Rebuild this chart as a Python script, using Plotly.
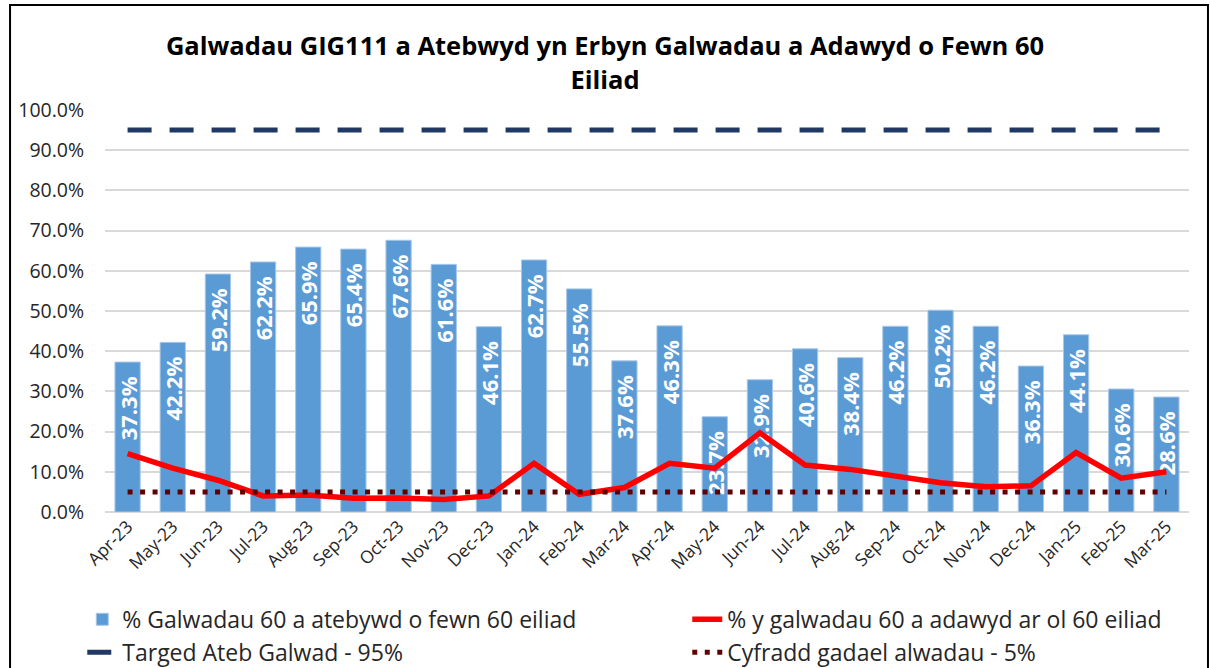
import plotly.graph_objects as go

months = ["Apr-23","May-23","Jun-23","Jul-23","Aug-23","Sep-23","Oct-23","Nov-23","Dec-23",
          "Jan-24","Feb-24","Mar-24","Apr-24","May-24","Jun-24","Jul-24","Aug-24","Sep-24",
          "Oct-24","Nov-24","Dec-24","Jan-25","Feb-25","Mar-25"]
answered = [37.3,42.2,59.2,62.2,65.9,65.4,67.6,61.6,46.1,62.7,55.5,37.6,46.3,23.7,32.9,40.6,
            38.4,46.2,50.2,46.2,36.3,44.1,30.6,28.6]
abandoned = [14.5,10.9,7.9,4.0,4.2,3.4,3.5,3.1,4.0,12.1,4.4,6.1,12.1,10.9,19.7,11.7,10.6,9.0,
             7.3,6.3,6.5,14.8,8.4,10.0]
target = [95.0]*len(months)
abandon_rate = [5.0]*len(months)

names = ["% Galwadau 60 a atebywd o fewn 60 eiliad",
         "% y galwadau 60 a adawyd ar ol 60 eiliad",
         "Targed Ateb Galwad - 95%",
         "Cyfradd gadael alwadau - 5%"]

FONT = "Open Sans"
TXT = "#262626"

fig = go.Figure()
fig.add_trace(go.Bar(
    x=months, y=answered, name=names[0], legend="legend",
    marker=dict(color="#5B9BD5", line=dict(color="#A9C8E8", width=1)),
    text=[f"{v:.1f}%\u00a0\u00a0" for v in answered], textposition="inside", insidetextanchor="end",
    textangle=-90, constraintext="none",
    textfont=dict(family=FONT, size=22, color="white", weight="bold"),
    width=0.56,
))
fig.add_trace(go.Scatter(
    x=months, y=abandoned, name=names[1], mode="lines", legend="legend2",
    line=dict(color="#FF0000", width=5.5),
))
fig.add_trace(go.Scatter(
    x=months, y=target, name=names[2], mode="lines", legend="legend",
    line=dict(color="#1F3864", width=5, dash="24px,18px"),
))
fig.add_trace(go.Scatter(
    x=months, y=abandon_rate, name=names[3], mode="lines", legend="legend2",
    line=dict(color="#600000", width=5, dash="5px,7.5px"),
))

fig.update_layout(
    width=1210, height=668,
    paper_bgcolor="white", plot_bgcolor="white",
    margin=dict(l=105, r=21, t=110, b=156, autoexpand=False),
    font=dict(family=FONT, color=TXT),
    title=dict(text="<b>Galwadau GIG111 a Atebwyd yn Erbyn Galwadau a Adawyd o Fewn 60<br>Eiliad</b>",
               x=0.5, xanchor="center", y=0.917, yanchor="top",
               font=dict(family=FONT, size=25.5, color="#000000")),
    bargap=0.44,
    showlegend=True,
    legend=dict(xref="container", yref="container", x=0.068, y=0.105, xanchor="left", yanchor="top",
                orientation="v", font=dict(size=23, family=FONT, color=TXT),
                bgcolor="rgba(0,0,0,0)", tracegroupgap=0, itemwidth=30),
    legend2=dict(xref="container", yref="container", x=0.568, y=0.105, xanchor="left", yanchor="top",
                 orientation="v", font=dict(size=23, family=FONT, color=TXT),
                 bgcolor="rgba(0,0,0,0)", tracegroupgap=0, itemwidth=30),
    xaxis=dict(tickangle=-45, tickfont=dict(size=17.5, color=TXT), automargin=False,
               showgrid=False, showline=False, ticks=""),
    yaxis=dict(range=[0, 100], dtick=10, tickformat=".1f", ticksuffix="%", automargin=False,
               tickfont=dict(size=19.5, color=TXT),
               showgrid=True, gridcolor="#D9D9D9", gridwidth=1.5,
               zeroline=True, zerolinecolor="#D9D9D9", zerolinewidth=1.5,
               ticks="outside", ticklen=16, tickcolor="rgba(0,0,0,0)"),
    shapes=[dict(type="rect", xref="paper", yref="paper",
                 x0=-0.0876, x1=1.0175, y0=-0.40, y1=1.261,
                 line=dict(color="black", width=2), fillcolor="rgba(0,0,0,0)", layer="below")],
)

fig.write_html("out.html", config={"displayModeBar": False},
               post_script="document.body.style.margin='0';")
